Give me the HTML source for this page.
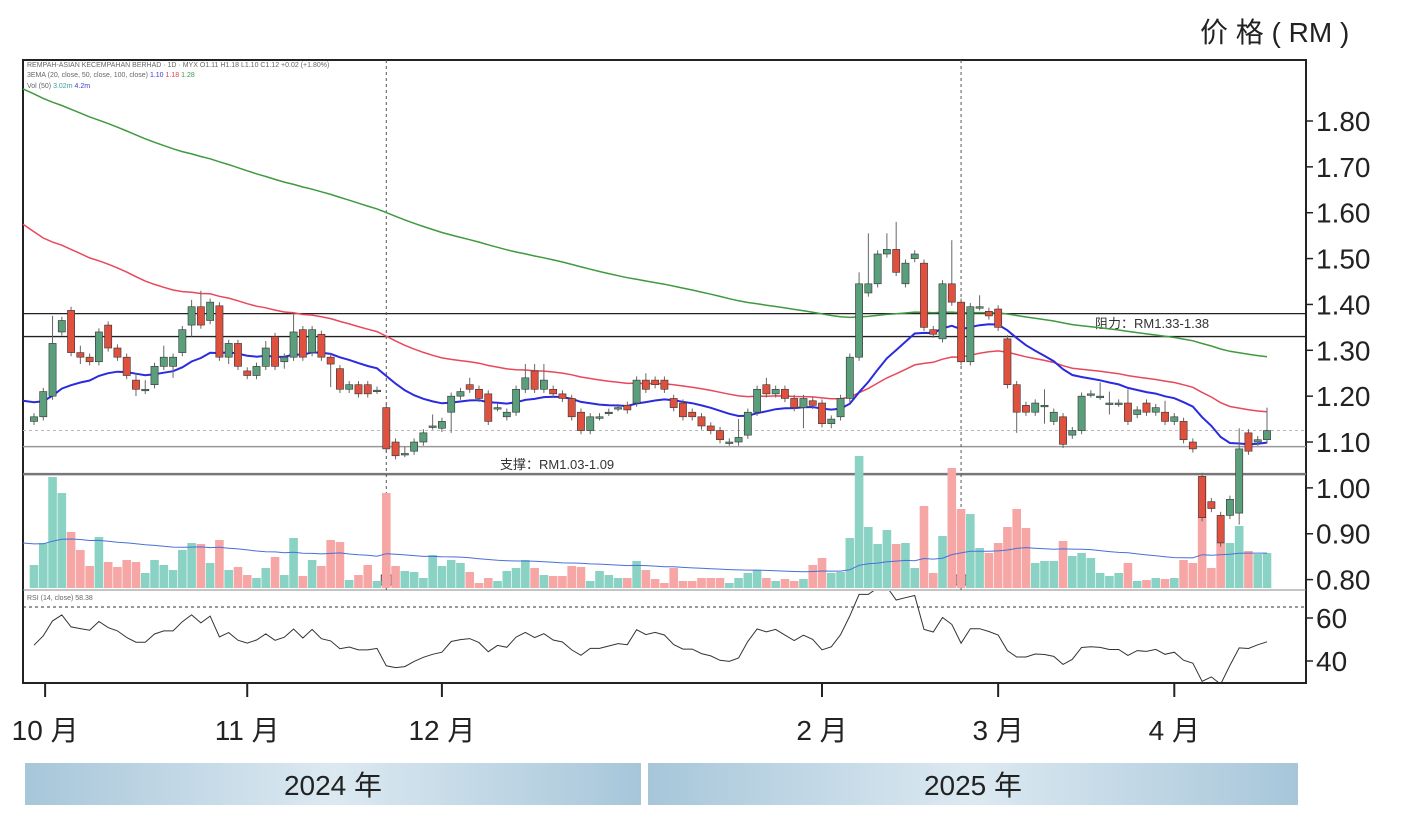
<!DOCTYPE html>
<html><head><meta charset="utf-8">
<style>
html,body{margin:0;padding:0;background:#fff;}
body{width:1415px;height:823px;overflow:hidden;font-family:"Liberation Sans","Noto Sans CJK SC",sans-serif;}
svg text{font-family:"Liberation Sans","Noto Sans CJK SC",sans-serif;}
</style></head>
<body>
<svg id="chart" width="1415" height="823" xmlns="http://www.w3.org/2000/svg">
  <defs>
    <linearGradient id="yearGrad" x1="0" x2="1" y1="0" y2="0">
      <stop offset="0" stop-color="#a7c6da"/><stop offset="0.5" stop-color="#dce9f1"/><stop offset="1" stop-color="#a7c6da"/>
    </linearGradient>
    <clipPath id="rsiClip"><rect x="23" y="591" width="1283" height="91"/></clipPath>
  </defs>
  <text x="1200" y="42" font-size="28" fill="#222">价 格 ( RM )</text>
  <rect x="23" y="60" width="1283" height="623" fill="none" stroke="#222" stroke-width="2"/>
  <line x1="23" y1="590" x2="1306" y2="590" stroke="#888" stroke-width="1"/>
  <text x="27" y="67" font-size="7" fill="#666">REMPAH-ASIAN KECEMPAHAN BERHAD · 1D · MYX  O1.11  H1.18  L1.10  C1.12  +0.02 (+1.80%)</text>
  <text x="27" y="77" font-size="7" fill="#666">3EMA (20, close, 50, close, 100, close)  <tspan fill="#3a3ad8">1.10</tspan> <tspan fill="#e04050">1.18</tspan> <tspan fill="#3a9a4a">1.28</tspan></text>
  <text x="27" y="88" font-size="7" fill="#666">Vol (50)  <tspan fill="#3aa0a0">3.02m</tspan> <tspan fill="#3a3ad8">4.2m</tspan></text>
  <text x="27" y="600" font-size="7" fill="#666">RSI (14, close)  58.38</text>
  <g id="grid"></g>
  <g id="volumes"></g>
  <g id="lines"></g>
  <g id="candles"></g>
  <g id="rsi" clip-path="url(#rsiClip)"></g>
  <g id="axes"></g>
  <rect x="25" y="763" width="616" height="42" fill="url(#yearGrad)"/>
  <rect x="648" y="763" width="650" height="42" fill="url(#yearGrad)"/>
  <text x="333" y="795" font-size="28" text-anchor="middle" fill="#222">2024 年</text>
  <text x="973" y="795" font-size="28" text-anchor="middle" fill="#222">2025 年</text>
</svg>
<script>
const opens=[1.145,1.155,1.20,1.34,1.387,1.295,1.285,1.275,1.355,1.305,1.285,1.235,1.215,1.225,1.265,1.265,1.295,1.355,1.395,1.365,1.397,1.285,1.315,1.255,1.245,1.265,1.33,
1.275,1.285,1.345,1.295,1.335,1.285,1.26,1.215,1.225,1.225,1.213,1.175,1.10,1.075,1.08,1.10,1.135,1.13,1.165,1.20,1.225,1.215,1.205,1.175,1.155,1.165,1.215,
1.255,1.215,1.215,1.205,1.195,1.165,1.125,1.155,1.165,1.175,1.18,1.185,1.235,1.235,1.235,1.195,1.185,1.165,1.155,1.135,1.125,1.10,1.10,1.115,1.165,1.225,1.205,
1.215,1.195,1.175,1.19,1.185,1.14,1.155,1.195,1.285,1.425,1.445,1.51,1.52,1.445,1.50,1.49,1.345,1.325,1.445,1.405,1.275,1.395,1.385,1.39,1.325,1.225,1.18,
1.165,1.18,1.145,1.155,1.115,1.125,1.205,1.20,1.185,1.185,1.185,1.16,1.185,1.165,1.165,1.145,1.145,1.10,1.025,0.97,0.94,0.94,0.945,1.12,1.10,1.105];
const closes=[1.155,1.21,1.315,1.365,1.295,1.285,1.275,1.34,1.305,1.285,1.245,1.215,1.215,1.265,1.285,1.285,1.345,1.395,1.355,1.405,1.285,1.315,1.265,1.245,1.265,1.305,1.265,
1.285,1.34,1.285,1.345,1.285,1.27,1.215,1.225,1.205,1.205,1.213,1.085,1.07,1.075,1.10,1.12,1.135,1.145,1.20,1.21,1.215,1.195,1.145,1.175,1.165,1.215,1.24,
1.215,1.235,1.205,1.195,1.155,1.125,1.155,1.155,1.165,1.175,1.17,1.235,1.215,1.225,1.215,1.175,1.155,1.155,1.135,1.125,1.105,1.10,1.11,1.165,1.215,1.205,1.215,
1.195,1.175,1.195,1.18,1.14,1.15,1.195,1.285,1.445,1.445,1.51,1.52,1.47,1.49,1.51,1.35,1.335,1.445,1.405,1.275,1.395,1.395,1.375,1.35,1.225,1.165,1.165,
1.185,1.18,1.165,1.095,1.125,1.20,1.205,1.20,1.185,1.185,1.145,1.17,1.165,1.175,1.145,1.155,1.105,1.085,0.935,0.955,0.88,0.975,1.085,1.08,1.105,1.125];
const highs=[null,null,1.375,null,null,1.31,null,null,null,null,null,1.25,1.235,null,1.31,null,null,1.41,1.43,null,null,null,null,null,null,1.32,null,
null,1.38,null,null,null,null,null,null,null,null,null,null,null,1.09,null,null,1.16,null,null,null,1.24,null,null,null,null,null,1.27,
1.27,1.27,null,null,null,null,null,null,null,null,null,null,1.25,null,null,null,null,null,null,null,null,null,1.15,null,null,1.24,null,
null,null,null,null,null,null,null,null,1.47,1.555,null,1.555,1.58,null,null,null,null,null,1.54,null,null,1.42,null,null,null,null,null,
null,1.215,null,null,null,null,null,1.23,1.21,null,1.215,null,null,null,1.19,null,null,null,null,null,null,null,1.13,null,null,1.175];
const lows=[null,null,null,null,null,1.27,null,null,null,null,null,1.20,1.205,null,null,1.24,null,1.33,null,null,null,1.27,null,null,null,null,null,
1.26,null,null,null,null,1.22,null,null,null,null,null,null,null,null,null,null,null,null,1.12,null,null,null,null,null,null,null,null,
null,null,null,null,null,null,null,null,null,null,null,null,null,null,null,null,null,null,null,null,null,null,null,null,null,null,null,
null,null,1.13,null,null,1.13,null,null,null,null,null,null,null,null,null,null,null,null,null,null,null,null,null,null,null,1.12,null,
null,1.14,null,null,null,null,null,null,1.16,null,null,null,null,null,null,null,null,null,null,null,null,null,0.92,null,null,null];
const volumes=[23,45,111,95,56,38,22,51,26,21,28,26,15,28,23,18,38,45,44,25,48,18,21,13,10,20,31,
13,50,12,28,22,48,46,8,13,23,7,95,22,17,16,10,33,22,28,25,16,5,10,7,17,20,28,
20,13,12,12,22,21,7,17,13,10,10,27,18,9,5,20,7,7,10,10,10,5,10,15,18,10,7,
9,7,9,23,30,15,16,50,132,61,44,58,44,45,20,82,15,52,120,79,74,40,35,45,61,79,60,
25,27,27,47,32,35,30,15,12,15,25,7,8,10,9,10,28,25,112,20,45,45,62,37,34,35];
const priceTicks=[1.80,1.70,1.60,1.50,1.40,1.30,1.20,1.10,1.00,0.90,0.80];
const priceTickLabels=["1.80","1.70","1.60","1.50","1.40","1.30","1.20","1.10","1.00","0.90","0.80"];
const rsiTicks=[60,40];
const monthLabels=["10 月","11 月","12 月","2 月","3 月","4 月"];
const monthIndex=[1.2,23,44,85,104,123];
const resistance=[1.33,1.38];
const support=[1.03,1.09];

const NS="http://www.w3.org/2000/svg";
function mk(tag,attrs,parent){const e=document.createElementNS(NS,tag);for(const k in attrs)e.setAttribute(k,attrs[k]);parent.appendChild(e);return e;}
const N=closes.length;
const X0=34,X1=1267;
const xs=i=>X0+i*(X1-X0)/(N-1);
const yp=p=>121+(1.80-p)*458.6;
const yv=v=>588-v;
const yr=r=>618+(60-r)*2.15;

const grid=document.getElementById('grid');
resistance.forEach((r,k)=>{const l=mk('line',{x1:23,x2:1306,y1:yp(r),y2:yp(r),stroke:'#222','stroke-width':1.3},grid);
});
[[support[1],'#999',1.5],[support[0],'#777',2.5]].forEach((s,k)=>{const l=mk('line',{x1:23,x2:1306,y1:yp(s[0]),y2:yp(s[0]),stroke:s[1],'stroke-width':s[2]},grid);
});
const cur=mk('line',{x1:23,x2:1306,y1:yp(closes[N-1]),y2:yp(closes[N-1]),stroke:'#bbb','stroke-width':1,'stroke-dasharray':'3,3'},grid);

[38,100].forEach((i,k)=>{const l=mk('line',{x1:xs(i),x2:xs(i),y1:60,y2:590,stroke:'#555','stroke-width':1,'stroke-dasharray':'3,3'},grid);

const b=mk('rect',{x:xs(i)-5,y:575,width:10,height:10,fill:'#fff',stroke:'#444'},grid);

const t=mk('text',{x:xs(i),y:584,'font-size':8,'text-anchor':'middle',fill:'#333'},grid);t.textContent='E';
});
const rl=mk('text',{x:1095,y:328,'font-size':13,fill:'#333'},grid);rl.textContent='阻力：RM1.33-1.38';

const sl=mk('text',{x:500,y:469,'font-size':13,fill:'#333'},grid);sl.textContent='支撑：RM1.03-1.09';

const rd=mk('line',{x1:23,x2:1306,y1:607,y2:607,stroke:'#333','stroke-width':1,'stroke-dasharray':'3,3'},grid);


const vg=document.getElementById('volumes');
volumes.forEach((v,i)=>{const up=closes[i]>=opens[i];
const r=mk('rect',{x:xs(i)-4.3,y:yv(v),width:8.6,height:v,fill:up?'#8ad2c4':'#f6a6a4'},vg);
});
// volume EMA(50) seeded
let va=45,vpts=['23,'+yv(va)];for(let i=0;i<N;i++){va=va+(volumes[i]-va)*2/51;vpts.push(xs(i)+','+yv(va).toFixed(1));}
const vl=mk('polyline',{points:vpts.join(' '),fill:'none',stroke:'#4a6fd8','stroke-width':1},vg);


const lg=document.getElementById('lines');
function ema(period,seed){const a=2/(period+1);let e=seed,out=[];closes.forEach(c=>{e=e+a*(c-e);out.push(e);});return out;}
[[130,1.87,'#3f9a3f','ema-100-line'],[50,1.575,'#e8485a','ema-50-line'],[20,1.19,'#2a2ae0','ema-20-line']].forEach(s=>{
const v=ema(s[0],s[1]);const pts=[ '23,'+yp(s[1]).toFixed(1)].concat(v.map((e,i)=>xs(i)+','+yp(e).toFixed(1)));
const p=mk('polyline',{points:pts.join(' '),fill:'none',stroke:s[2],'stroke-width':s[0]==20?2:1.5},lg);
});

const cg=document.getElementById('candles');
for(let i=0;i<N;i++){const o=opens[i],c=closes[i];const up=c>=o;
const h=highs[i]!=null?highs[i]:Math.max(o,c)+0.008;const l=lows[i]!=null?lows[i]:Math.min(o,c)-0.008;
const col=up?'#5a9e7c':'#e0503e';const g=mk('g',{},cg);

mk('line',{x1:xs(i),x2:xs(i),y1:yp(h),y2:yp(l),stroke:'#666','stroke-width':1},g);
const top=yp(Math.max(o,c)),bh=Math.max(1.5,Math.abs(yp(o)-yp(c)));
mk('rect',{x:xs(i)-3.6,y:top,width:7.2,height:bh,fill:col,stroke:'#333','stroke-width':0.6},g);}

// RSI (Wilder, damped seed)
const rg=document.getElementById('rsi');
const P=18;let ag=0.018,al=0.02,rpts=[];
for(let i=0;i<N;i++){const d=i?closes[i]-closes[i-1]:0;ag=(ag*(P-1)+Math.max(d,0))/P;al=(al*(P-1)+Math.max(-d,0))/P;
const r=100-100/(1+ag/al);rpts.push(xs(i)+','+yr(r).toFixed(1));}
const rp=mk('polyline',{points:rpts.join(' '),fill:'none',stroke:'#333','stroke-width':1},rg);


const ax=document.getElementById('axes');
priceTicks.forEach((p,k)=>{const t=mk('line',{x1:1306,x2:1313,y1:yp(p),y2:yp(p),stroke:'#222','stroke-width':1.5},ax);

const tx=mk('text',{x:1316,y:yp(p)+10,'font-size':28,fill:'#222'},ax);tx.textContent=priceTickLabels[k];
});
rsiTicks.forEach(r=>{const t=mk('line',{x1:1306,x2:1313,y1:yr(r),y2:yr(r),stroke:'#222','stroke-width':1.5},ax);

const tx=mk('text',{x:1316,y:yr(r)+10,'font-size':28,fill:'#222'},ax);tx.textContent=String(r);
});
monthLabels.forEach((m,k)=>{const x=xs(monthIndex[k]);
const t=mk('line',{x1:x,x2:x,y1:683,y2:697,stroke:'#222','stroke-width':2},ax);

const tx=mk('text',{x:x,y:740,'font-size':28,'text-anchor':'middle',fill:'#222'},ax);tx.textContent=m;
});
</script>
</body></html>
